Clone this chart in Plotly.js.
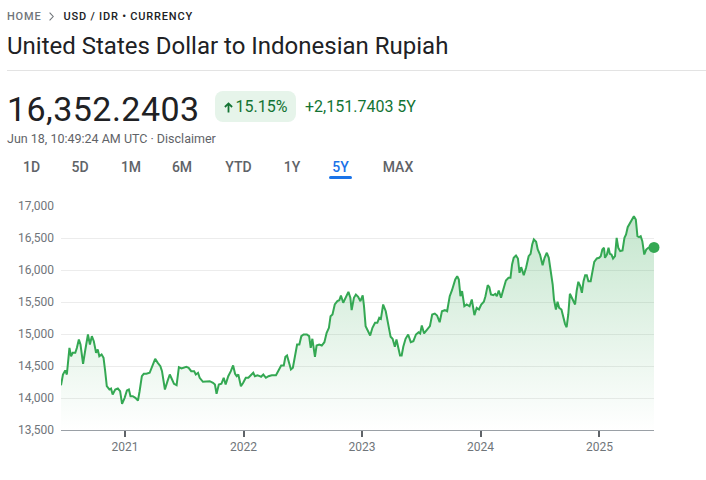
<!DOCTYPE html>
<html>
<head>
<meta charset="utf-8">
<script src="https://cdn.plot.ly/plotly-3.0.1.min.js"></script>
<style>
html,body{margin:0;padding:0;background:#fff;width:706px;height:480px;overflow:hidden;font-family:Roboto,Arial,sans-serif;}
.abs{position:absolute;white-space:nowrap;}
#chart{position:absolute;left:0;top:0;width:706px;height:480px;z-index:1;}
#head{position:absolute;left:0;top:0;width:706px;height:190px;z-index:2;}
.crumb{left:7px;top:10px;font-size:11px;line-height:14px;font-weight:500;letter-spacing:0.8px;color:#70757a;}
.crumb .dark{color:#202124;}
.crumb svg{display:inline-block;vertical-align:-1px;margin:0 9px 0 8px;}
.title{left:7px;top:31px;font-size:24px;line-height:30px;color:#202124;font-weight:400;}
.sep{left:7px;top:70px;width:699px;height:1px;background:#e3e3e3;}
.price{left:7px;top:89px;font-size:34px;line-height:40px;color:#202124;letter-spacing:0.45px;}
.badge{left:215px;top:91px;width:81px;height:31px;border-radius:8px;background:#e6f4ea;color:#137333;font-size:16px;line-height:31px;text-align:center;}
.badge svg{display:inline-block;vertical-align:-1px;margin-right:3px;}
.chg{left:305px;top:91px;font-size:16px;line-height:31px;color:#137333;}
.date{left:7px;top:131px;font-size:12.5px;line-height:16px;color:#5f6368;}
.tab{top:157px;font-size:14px;line-height:20px;font-weight:500;color:#5f6368;transform:translateX(-50%);}
.tab.on{color:#1a73e8;}
.uline{left:329px;top:176px;width:23px;height:3px;border-radius:2px;background:#1a73e8;}
</style>
</head>
<body>
<div id="chart"></div>
<div id="head"></div>
<script>
// ---- header values ----
const crumbHome = 'HOME';
const crumbPair = 'USD / IDR • CURRENCY';
const pageTitle = 'United States Dollar to Indonesian Rupiah';
const lastPrice = '16,352.2403';
const changePct = '15.15%';
const changeAbs = '+2,151.7403';
const periodLabel = '5Y';
const stampText = 'Jun 18, 10:49:24 AM UTC · Disclaimer';
const tabLabels = ['1D','5D','1M','6M','YTD','1Y','5Y','MAX'];
const tabCenters = [31.5, 80, 131, 182, 238.5, 292, 340.5, 398];
const activeTab = '5Y';

// ---- chart data (USD/IDR) ----
const dates = [
 '2020-06-18','2020-06-24','2020-07-01','2020-07-06','2020-07-14','2020-07-19','2020-07-24',
 '2020-08-01','2020-08-06','2020-08-12','2020-08-17','2020-08-25',
 '2020-09-01','2020-09-09','2020-09-15','2020-09-21','2020-09-27',
 '2020-10-04','2020-10-09','2020-10-14','2020-10-21','2020-10-27',
 '2020-11-01','2020-11-06','2020-11-14','2020-11-19','2020-11-24',
 '2020-12-02','2020-12-10','2020-12-17','2020-12-23','2020-12-31',
 '2021-01-07','2021-01-13','2021-01-18','2021-01-25',
 '2021-02-02','2021-02-10','2021-02-15','2021-02-22','2021-02-28',
 '2021-03-08','2021-03-18','2021-03-28',
 '2021-04-04','2021-04-12','2021-04-20','2021-04-25',
 '2021-05-04','2021-05-12','2021-05-19','2021-05-26',
 '2021-06-01','2021-06-09','2021-06-16','2021-06-24',
 '2021-07-02','2021-07-09','2021-07-16','2021-07-24',
 '2021-08-02','2021-08-07','2021-08-14','2021-08-19','2021-08-29',
 '2021-09-09','2021-09-19','2021-09-29',
 '2021-10-05','2021-10-10','2021-10-17','2021-10-25',
 '2021-11-01','2021-11-07','2021-11-15','2021-11-23','2021-11-30',
 '2021-12-06','2021-12-11','2021-12-16','2021-12-24','2021-12-31',
 '2022-01-08','2022-01-16','2022-01-24','2022-01-31',
 '2022-02-05','2022-02-13','2022-02-20','2022-02-24',
 '2022-03-03','2022-03-11','2022-03-19','2022-03-29',
 '2022-04-11','2022-04-19','2022-04-27',
 '2022-05-05','2022-05-10','2022-05-15','2022-05-20','2022-05-27',
 '2022-06-02','2022-06-08','2022-06-15','2022-06-22','2022-06-28',
 '2022-07-05','2022-07-15','2022-07-22','2022-07-27',
 '2022-08-01','2022-08-09','2022-08-14','2022-08-22','2022-08-30',
 '2022-09-07','2022-09-14','2022-09-21','2022-09-26',
 '2022-10-02','2022-10-09','2022-10-17','2022-10-23','2022-10-28',
 '2022-11-04','2022-11-12','2022-11-20','2022-11-26','2022-11-30',
 '2022-12-07','2022-12-13','2022-12-20','2022-12-27',
 '2023-01-03','2023-01-07','2023-01-12','2023-01-20','2023-01-26',
 '2023-02-02','2023-02-10','2023-02-17','2023-02-23','2023-02-28',
 '2023-03-07','2023-03-15','2023-03-23','2023-03-30',
 '2023-04-05','2023-04-12','2023-04-17','2023-04-22','2023-04-28',
 '2023-05-03','2023-05-08','2023-05-15','2023-05-23','2023-05-31',
 '2023-06-08','2023-06-16','2023-06-24','2023-06-29',
 '2023-07-04','2023-07-11','2023-07-19','2023-07-29',
 '2023-08-05','2023-08-13','2023-08-20','2023-08-28',
 '2023-09-04','2023-09-13','2023-09-20','2023-09-28',
 '2023-10-05','2023-10-15','2023-10-21','2023-10-26','2023-10-31',
 '2023-11-05','2023-11-12','2023-11-19','2023-11-28',
 '2023-12-05','2023-12-13','2023-12-20','2023-12-27',
 '2024-01-03','2024-01-11','2024-01-16','2024-01-23','2024-01-28',
 '2024-02-02','2024-02-09','2024-02-15','2024-02-20','2024-02-26',
 '2024-03-04','2024-03-11','2024-03-19','2024-03-27',
 '2024-04-02','2024-04-07','2024-04-12','2024-04-19','2024-04-25','2024-04-30',
 '2024-05-05','2024-05-13','2024-05-20','2024-05-28',
 '2024-06-03','2024-06-08','2024-06-13','2024-06-20','2024-06-25',
 '2024-07-02','2024-07-10','2024-07-16','2024-07-23','2024-07-29',
 '2024-08-05','2024-08-10','2024-08-14','2024-08-20','2024-08-25','2024-08-30',
 '2024-09-06','2024-09-11','2024-09-17','2024-09-22','2024-09-27',
 '2024-10-02','2024-10-08','2024-10-13','2024-10-18','2024-10-23','2024-10-28',
 '2024-11-03','2024-11-08','2024-11-13','2024-11-18','2024-11-23','2024-11-28',
 '2024-12-05','2024-12-11','2024-12-16','2024-12-24','2024-12-31',
 '2025-01-05','2025-01-10','2025-01-15','2025-01-18','2025-01-24','2025-01-29',
 '2025-02-02','2025-02-07','2025-02-12','2025-02-18','2025-02-23','2025-02-28',
 '2025-03-06','2025-03-13','2025-03-19','2025-03-24','2025-03-29',
 '2025-04-05','2025-04-12','2025-04-17','2025-04-23','2025-04-28',
 '2025-05-03','2025-05-08','2025-05-13','2025-05-19','2025-05-25',
 '2025-06-01','2025-06-09','2025-06-18'
];
const rates = [
 14200,14367,14430,14367,14784,14653,14706,
 14706,14784,14914,14836,14534,
 14758,14992,14836,14966,14888,
 14706,14758,14653,14680,14628,
 14419,14184,14133,14148,14055,
 14133,14148,14106,13909,14003,
 14117,14133,14028,14028,
 14003,13961,14106,14341,14378,
 14378,14394,14534,
 14612,14550,14497,14419,
 14133,14263,14367,14289,
 14222,14200,14481,14461,
 14472,14487,14472,14419,
 14419,14367,14394,14316,14253,
 14253,14263,14238,
 14211,14066,14211,14222,
 14316,14211,14341,14419,14508,
 14378,14341,14367,14184,14238,
 14316,14316,14356,14394,
 14341,14356,14341,14331,
 14367,14316,14341,14356,
 14356,14445,14508,
 14508,14644,14664,14575,14445,
 14472,14628,14836,14836,14966,
 14992,14992,14966,14784,
 14925,14644,14820,14836,14820,
 14872,15019,15097,15278,
 15305,15461,15513,15528,15602,
 15488,15566,15659,15566,15372,
 15566,15617,15581,15513,
 15602,15434,15122,15044,14977,
 15097,15175,15175,15253,15237,
 15461,15356,15148,14956,
 14925,14800,14914,14800,14664,
 14664,14800,14925,14992,14872,
 14888,14992,15028,15008,
 15133,15008,15060,15122,
 15305,15320,15289,15184,
 15356,15372,15356,15591,
 15684,15852,15903,15852,15591,
 15669,15434,15461,15434,
 15539,15294,15409,15383,
 15461,15503,15591,15763,15731,
 15617,15606,15628,15591,15680,
 15566,15695,15836,15878,
 15878,16086,16191,16227,16180,15956,
 16044,15919,16034,16216,
 16253,16398,16477,16441,16320,
 16242,16075,16191,16269,16191,
 15981,15773,15539,15383,15503,15409,
 15383,15278,15159,15106,15305,
 15628,15566,15488,15461,15680,15816,
 15747,15644,15825,15919,15919,15825,
 15825,16008,16128,16180,16191,
 16216,16320,16347,16191,16242,16347,
 16253,16242,16180,16216,16503,16347,
 16294,16305,16503,16555,16669,
 16737,16805,16841,16789,16528,
 16513,16528,16450,16242,16320,
 16347,16356,16352.2403
];
const yearTicks = ['2021-01-01','2022-01-01','2023-01-01','2024-01-01','2025-01-01'];
const yearLabels = ['2021','2022','2023','2024','2025'];
const yRange = [13500, 17000];

// ---- header ----
const head = document.getElementById('head');
function add(cls, html, style){
  const d = document.createElement('div');
  d.className = 'abs ' + cls;
  d.innerHTML = html;
  if (style) Object.assign(d.style, style);
  head.appendChild(d);
  return d;
}
const chevron = '<svg width="5" height="9" viewBox="0 0 5 9"><path d="M0.6 0.6 L4.2 4.5 L0.6 8.4" fill="none" stroke="#70757a" stroke-width="1.1"/></svg>';
const upArrow = '<svg width="9" height="11" viewBox="0 0 9 11"><path d="M4.5 10.5 V1.5 M0.9 5 L4.5 1.4 L8.1 5" fill="none" stroke="#137333" stroke-width="1.8"/></svg>';
add('crumb', crumbHome + chevron + '<span class="dark">' + crumbPair + '</span>');
add('title', pageTitle);
add('sep', '');
add('price', lastPrice);
add('badge', upArrow + changePct);
add('chg', changeAbs + ' ' + periodLabel);
add('date', stampText);
tabLabels.forEach((t, i) => {
  add('tab' + (t === activeTab ? ' on' : ''), t, {left: tabCenters[i] + 'px'});
});
add('uline', '');

// ---- chart ----
const n = dates.length;
const lineTrace = {
  x: dates, y: rates, type: 'scatter', mode: 'lines',
  line: {color: '#34a853', width: 2},
  fill: 'tozeroy',
  fillgradient: {type: 'vertical', start: yRange[0], stop: yRange[1],
    colorscale: [[0, 'rgba(52,168,83,0)'], [1, 'rgba(52,168,83,0.3)']]},
  hoverinfo: 'skip'
};
const endTrace = {
  x: [dates[n - 1]], y: [rates[n - 1]], type: 'scatter', mode: 'markers',
  marker: {color: '#34a853', size: 11}, cliponaxis: false, hoverinfo: 'skip'
};
const tickFont = {family: 'Roboto, Arial, sans-serif', size: 12, color: '#70757a'};
const layout = {
  width: 706, height: 480,
  margin: {l: 61, r: 52, t: 206, b: 50},
  paper_bgcolor: 'rgba(0,0,0,0)', plot_bgcolor: 'rgba(0,0,0,0)',
  showlegend: false,
  xaxis: {
    type: 'date', range: [dates[0], dates[n - 1]],
    tickmode: 'array', tickvals: yearTicks, ticktext: yearLabels,
    ticks: 'outside', ticklen: 6, tickwidth: 2, tickcolor: '#5f6368',
    showgrid: false, zeroline: false, showline: true, linecolor: '#9aa0a6', linewidth: 1,
    tickfont: tickFont, fixedrange: true
  },
  yaxis: {
    range: yRange, tick0: 13500, dtick: 500, tickformat: ',d',
    showgrid: true, gridcolor: '#ececec', gridwidth: 1,
    zeroline: false, showline: false, ticks: '',
    ticklabelstandoff: 6,
    tickfont: tickFont, fixedrange: true
  }
};
Plotly.newPlot('chart', [lineTrace, endTrace], layout, {staticPlot: true, displayModeBar: false});
</script>
</body>
</html>
